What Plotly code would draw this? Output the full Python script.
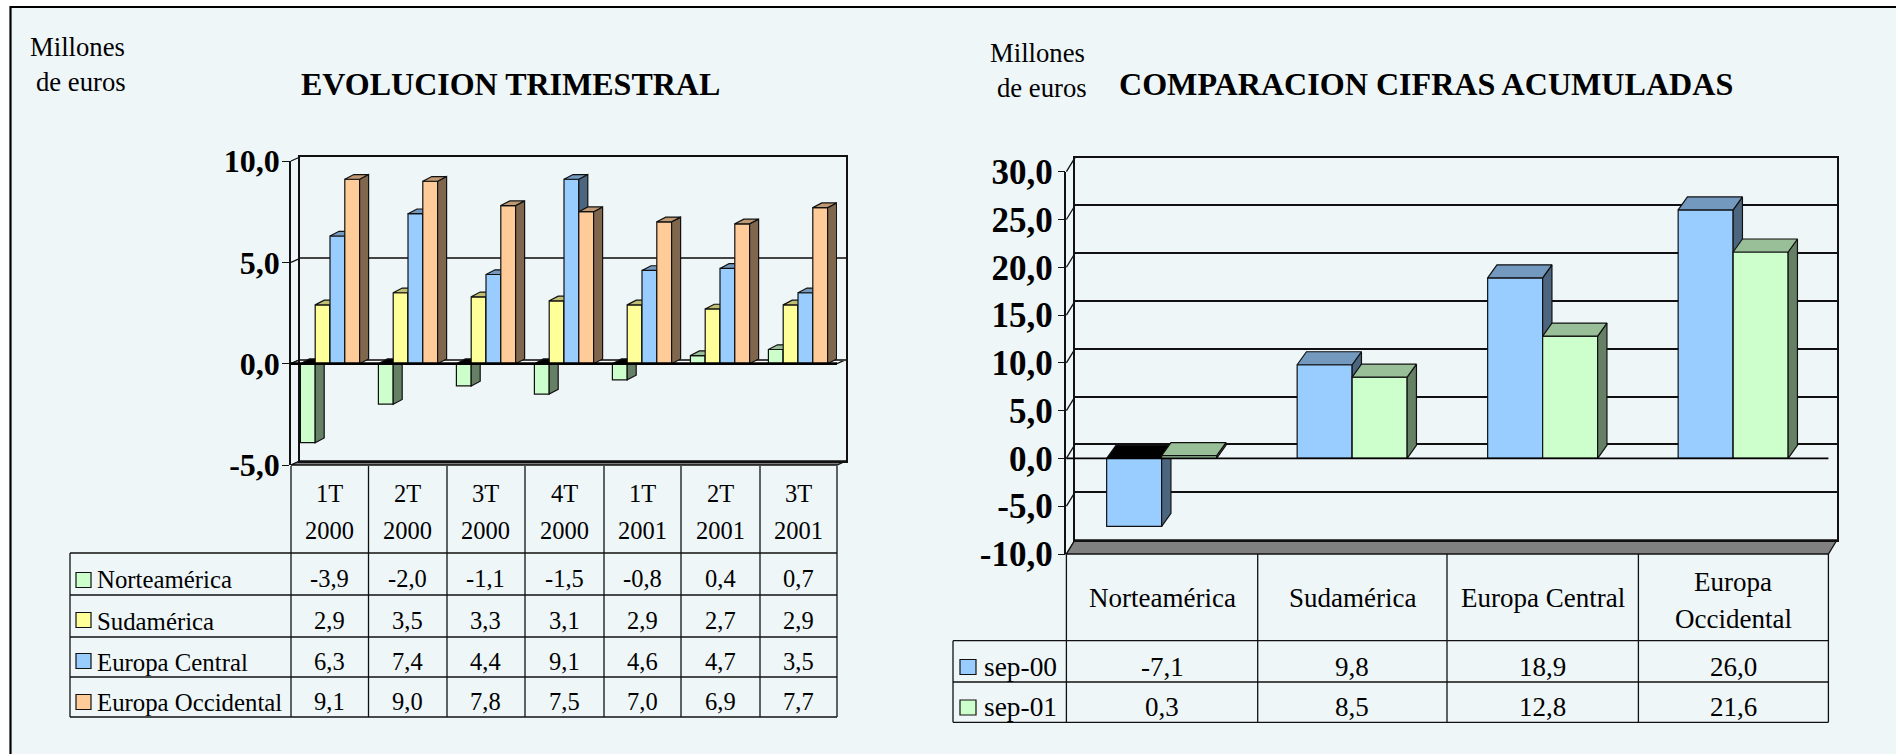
import plotly.graph_objects as go

W, H = 1896, 754
FONT = "Liberation Serif"
BG = "#EEF6F8"

quarters = ["1T", "2T", "3T", "4T", "1T", "2T", "3T"]
years = ["2000", "2000", "2000", "2000", "2001", "2001", "2001"]
series_left = ["Norteamérica", "Sudamérica", "Europa Central", "Europa Occidental"]
norteamerica = [-3.9, -2.0, -1.1, -1.5, -0.8, 0.4, 0.7]
sudamerica = [2.9, 3.5, 3.3, 3.1, 2.9, 2.7, 2.9]
europa_central = [6.3, 7.4, 4.4, 9.1, 4.6, 4.7, 3.5]
europa_occidental = [9.1, 9.0, 7.8, 7.5, 7.0, 6.9, 7.7]

regions = ["Norteamérica", "Sudamérica", "Europa Central", "Europa Occidental"]
series_right = ["sep-00", "sep-01"]
sep_00 = [-7.1, 9.8, 18.9, 26.0]
sep_01 = [0.3, 8.5, 12.8, 21.6]

left_ticks = [-5, 0, 5, 10]
right_ticks = [-10, -5, 0, 5, 10, 15, 20, 25, 30]

GREEN = ("#CCFFCC", "#668066", "#99BF99")
YELLOW = ("#FFFF99", "#808040", "#BFBF73")
BLUE = ("#99CCFF", "#4D6680", "#7399BF")
ORANGE = ("#FFCC99", "#80664D", "#BF9973")

def px(x):
    return x / W

def py(y):
    return 1 - y / H

def fmt(v):
    return f"{v:.1f}".replace(".", ",")

shapes, annotations, traces = [], [], []
layout_axes = {}
axis_no = [0]

def line(x0, y0, x1, y1, width=1.3, color="#111111", layer="below"):
    shapes.append(dict(type="line", xref="paper", yref="paper", x0=px(x0), y0=py(y0), x1=px(x1), y1=py(y1),
                       line=dict(color=color, width=width), layer=layer))

def poly(points, fill, width=1.3, layer="below", color="#111111"):
    path = "M" + " L".join(f"{px(a):.6f},{py(b):.6f}" for a, b in points) + " Z"
    shapes.append(dict(type="path", xref="paper", yref="paper", path=path, fillcolor=fill,
                       line=dict(color=color, width=width), layer=layer))

def text(x, y, s, size, bold=False, anchor="center"):
    annotations.append(dict(xref="paper", yref="paper", x=px(x), y=py(y), text=f"<b>{s}</b>" if bold else s,
                            showarrow=False, xanchor=anchor, yanchor="middle", borderpad=0,
                            font=dict(family=FONT, size=size, color="#000000")))

def new_axes(x0, x1, y_top, y_bot, xrange, yrange, **yopts):
    axis_no[0] += 1
    n = axis_no[0]
    sx = "" if n == 1 else str(n)
    xopts = yopts.pop("xopts", dict(visible=False))
    layout_axes["xaxis" + sx] = dict(domain=[px(x0), px(x1)], range=xrange, anchor="y" + sx, fixedrange=True,
                                     automargin=False, **xopts)
    base = dict(visible=False)
    base.update(yopts)
    layout_axes["yaxis" + sx] = dict(domain=[py(y_bot), py(y_top)], range=yrange, anchor="x" + sx, fixedrange=True,
                                     automargin=False, **base)
    return "x" + sx, "y" + sx

def chart(x0, x1, y_top, y_bot, ticks, cats, all_series, colors, bar_px, bar_depth, wall_depth,
          font_size, standoff, zero_w, grid_color, white_floor):
    ymin, ymax = ticks[0], ticks[-1]
    n_cat = len(cats)
    cat_px = (x1 - x0) / n_cat
    unit_px = (y_bot - y_top) / (ymax - ymin)
    wx, wy = wall_depth
    y_zero = y_bot - (0 - ymin) * unit_px

    # wall and floor
    for t in ticks:
        y = y_bot - (t - ymin) * unit_px
        line(x0, y, x0 + wx, y - wy)
    poly([(x0, y_bot), (x1, y_bot), (x1 + wx, y_bot - wy), (x0 + wx, y_bot - wy)], "#808080")
    if white_floor:
        poly([(x0, y_zero), (x1, y_zero), (x1 + wx, y_zero - wy), (x0 + wx, y_zero - wy)], "#FFFFFF")

    # back wall: its own axes, shifted by the depth of the chart
    bx, by = new_axes(x0 + wx, x1 + wx, y_top - wy, y_bot - wy, [0, 1], [ymin, ymax],
                      visible=True, showticklabels=False, ticks="", tickvals=ticks,
                      showgrid=True, gridcolor=grid_color, gridwidth=1.5, zeroline=False,
                      showline=True, mirror=True, linecolor="#111111", linewidth=1.5,
                      xopts=dict(visible=True, showticklabels=False, ticks="", showgrid=False, zeroline=False,
                                 showline=True, mirror=True, linecolor="#111111", linewidth=1.5))
    traces.append(go.Scatter(x=[], y=[], xaxis=bx, yaxis=by, showlegend=False, hoverinfo="skip"))

    w = bar_px / cat_px
    dx = bar_depth[0] / cat_px
    dy = bar_depth[1] / unit_px
    n_s = len(all_series)
    for s, (name, vals) in enumerate(all_series):
        face, side, top = colors[s]
        if s == 0:
            opts = dict(visible=True, showticklabels=True, tickvals=ticks, ticktext=[fmt(t) for t in ticks],
                        ticks="outside", ticklen=7, tickwidth=1.3, tickcolor="#111111", showgrid=False,
                        zeroline=False, showline=True, linecolor="#111111", linewidth=1.5,
                        ticklabelstandoff=standoff,
                        tickfont=dict(family=FONT, size=font_size, color="#000000", weight="bold"))
        else:
            opts = {}
        xa, ya = new_axes(x0, x1, y_top, y_bot, [0, n_cat], [ymin, ymax], **opts)
        off = (s - n_s / 2) * w
        xs = [i + 0.5 for i in range(n_cat)]
        traces.append(go.Bar(x=xs, y=list(vals), name=name, width=w, offset=off, xaxis=xa, yaxis=ya,
                             marker=dict(color=face, line=dict(color="#111111", width=1.2)),
                             showlegend=False, hoverinfo="skip"))
        sx, sy, tx, ty, nx, ny = [], [], [], [], [], []
        for c, v in zip(xs, vals):
            a, b = c + off, c + off + w
            sx += [b, b + dx, b + dx, b, b, None]
            sy += [0, dy, v + dy, v, 0, None]
            if v >= 0:
                tx += [a, b, b + dx, a + dx, a, None]
                ty += [v, v, v + dy, v + dy, v, None]
            else:
                nx += [a, b, b + dx, a + dx, a, None]
                ny += [0, 0, dy, dy, 0, None]
        for fx, fy, col in ((sx, sy, side), (nx, ny, "#000000"), (tx, ty, top)):
            if fx:
                traces.append(go.Scatter(x=fx, y=fy, xaxis=xa, yaxis=ya, mode="lines", fill="toself",
                                         fillcolor=col, line=dict(color="#111111", width=1.2),
                                         cliponaxis=False, showlegend=False, hoverinfo="skip"))
    line(x0, y_zero, x1, y_zero, width=zero_w, color="#000000", layer="above")

# page background with its top and left border
poly([(11, 7), (W + 5, 7), (W + 5, H + 5), (11, H + 5)], BG, width=0)
line(10.5, 6, 10.5, H + 5, width=2.2, color="#000000")
line(10, 7, W + 5, 7, width=2.2, color="#000000")

chart(291, 837, 161, 465, left_ticks, quarters,
      list(zip(series_left, [norteamerica, sudamerica, europa_central, europa_occidental])),
      [GREEN, YELLOW, BLUE, ORANGE], 14.8, (9, 4.7), (9, 4), 32, -4, 2.6, "#444444", True)
chart(1066.4, 1828.4, 171.7, 554, right_ticks, regions,
      list(zip(series_right, [sep_00, sep_01])),
      [BLUE, GREEN], 55, (9.3, 13), (8.6, 14), 35, -2, 1.8, "#111111", False)

# headings
text(510.5, 84, "EVOLUCION TRIMESTRAL", 32, bold=True)
text(1425.5, 84, "COMPARACION CIFRAS ACUMULADAS", 32.1, bold=True)
text(28.5, 46.5, "Millones", 26.7, anchor="left")
text(34.5, 82, "de euros", 26.7, anchor="left")
text(989, 53, "Millones", 26.7, anchor="left")
text(996, 88, "de euros", 26.7, anchor="left")

# left table
vx = [291, 368.5, 447, 525, 604, 681, 760, 837]
hy = [553, 595, 637, 677, 717]
for x in vx:
    line(x, 466, x, hy[-1])
line(70, hy[0], 70, hy[-1])
for y in hy:
    line(70, y, 837, y)
row_mid = [578.5, 620, 661, 701]
row_sw = [580, 620, 661, 702]
left_vals = [norteamerica, sudamerica, europa_central, europa_occidental]
left_cols = [GREEN, YELLOW, BLUE, ORANGE]
for i in range(len(quarters)):
    cx = (vx[i] + vx[i + 1]) / 2
    text(cx, 493, quarters[i], 24.5)
    text(cx, 530, years[i], 24.5)
    for r, vals in enumerate(left_vals):
        text(cx, row_mid[r], fmt(vals[i]), 24.5)
for r, name in enumerate(series_left):
    text(96, row_mid[r] + 1, name, 24.8, anchor="left")
    poly([(76, row_sw[r] - 7.5), (91, row_sw[r] - 7.5), (91, row_sw[r] + 7.5), (76, row_sw[r] + 7.5)],
         left_cols[r][0], width=1.2)

# right table
vr = [1066.4, 1257.7, 1447, 1638.4, 1828.4]
hr = [640.7, 682, 722.3]
for x in vr:
    line(x, 554, x, hr[-1])
line(953, hr[0], 953, hr[-1])
for y in hr:
    line(953, y, vr[-1], y)
right_mid = [667, 707]
right_sw = [667, 707.5]
right_vals = [sep_00, sep_01]
right_cols = [BLUE, GREEN]
for i, reg in enumerate(regions):
    cx = (vr[i] + vr[i + 1]) / 2
    if " " in reg and reg != "Europa Central":
        first, second = reg.split(" ")
        text(cx, 582, first, 27)
        text(cx, 619, second, 27)
    else:
        text(cx, 598, reg, 27)
    for r, vals in enumerate(right_vals):
        text(cx, right_mid[r], fmt(vals[i]), 27)
for r, name in enumerate(series_right):
    text(983, right_mid[r], name, 27.4, anchor="left")
    poly([(960, right_sw[r] - 7.5), (976, right_sw[r] - 7.5), (976, right_sw[r] + 7.5), (960, right_sw[r] + 7.5)],
         right_cols[r][0], width=1.2)

fig = go.Figure(data=traces)
fig.update_layout(width=W, height=H, margin=dict(l=0, r=0, t=0, b=0, pad=0, autoexpand=False), autosize=False,
                  paper_bgcolor="#FFFFFF", plot_bgcolor="rgba(0,0,0,0)",
                  barmode="overlay", showlegend=False, shapes=shapes, annotations=annotations,
                  font=dict(family=FONT), **layout_axes)
fig.write_html("out.html", config=dict(displayModeBar=False),
               post_script="document.body.style.margin='0';document.body.style.overflow='hidden';")
